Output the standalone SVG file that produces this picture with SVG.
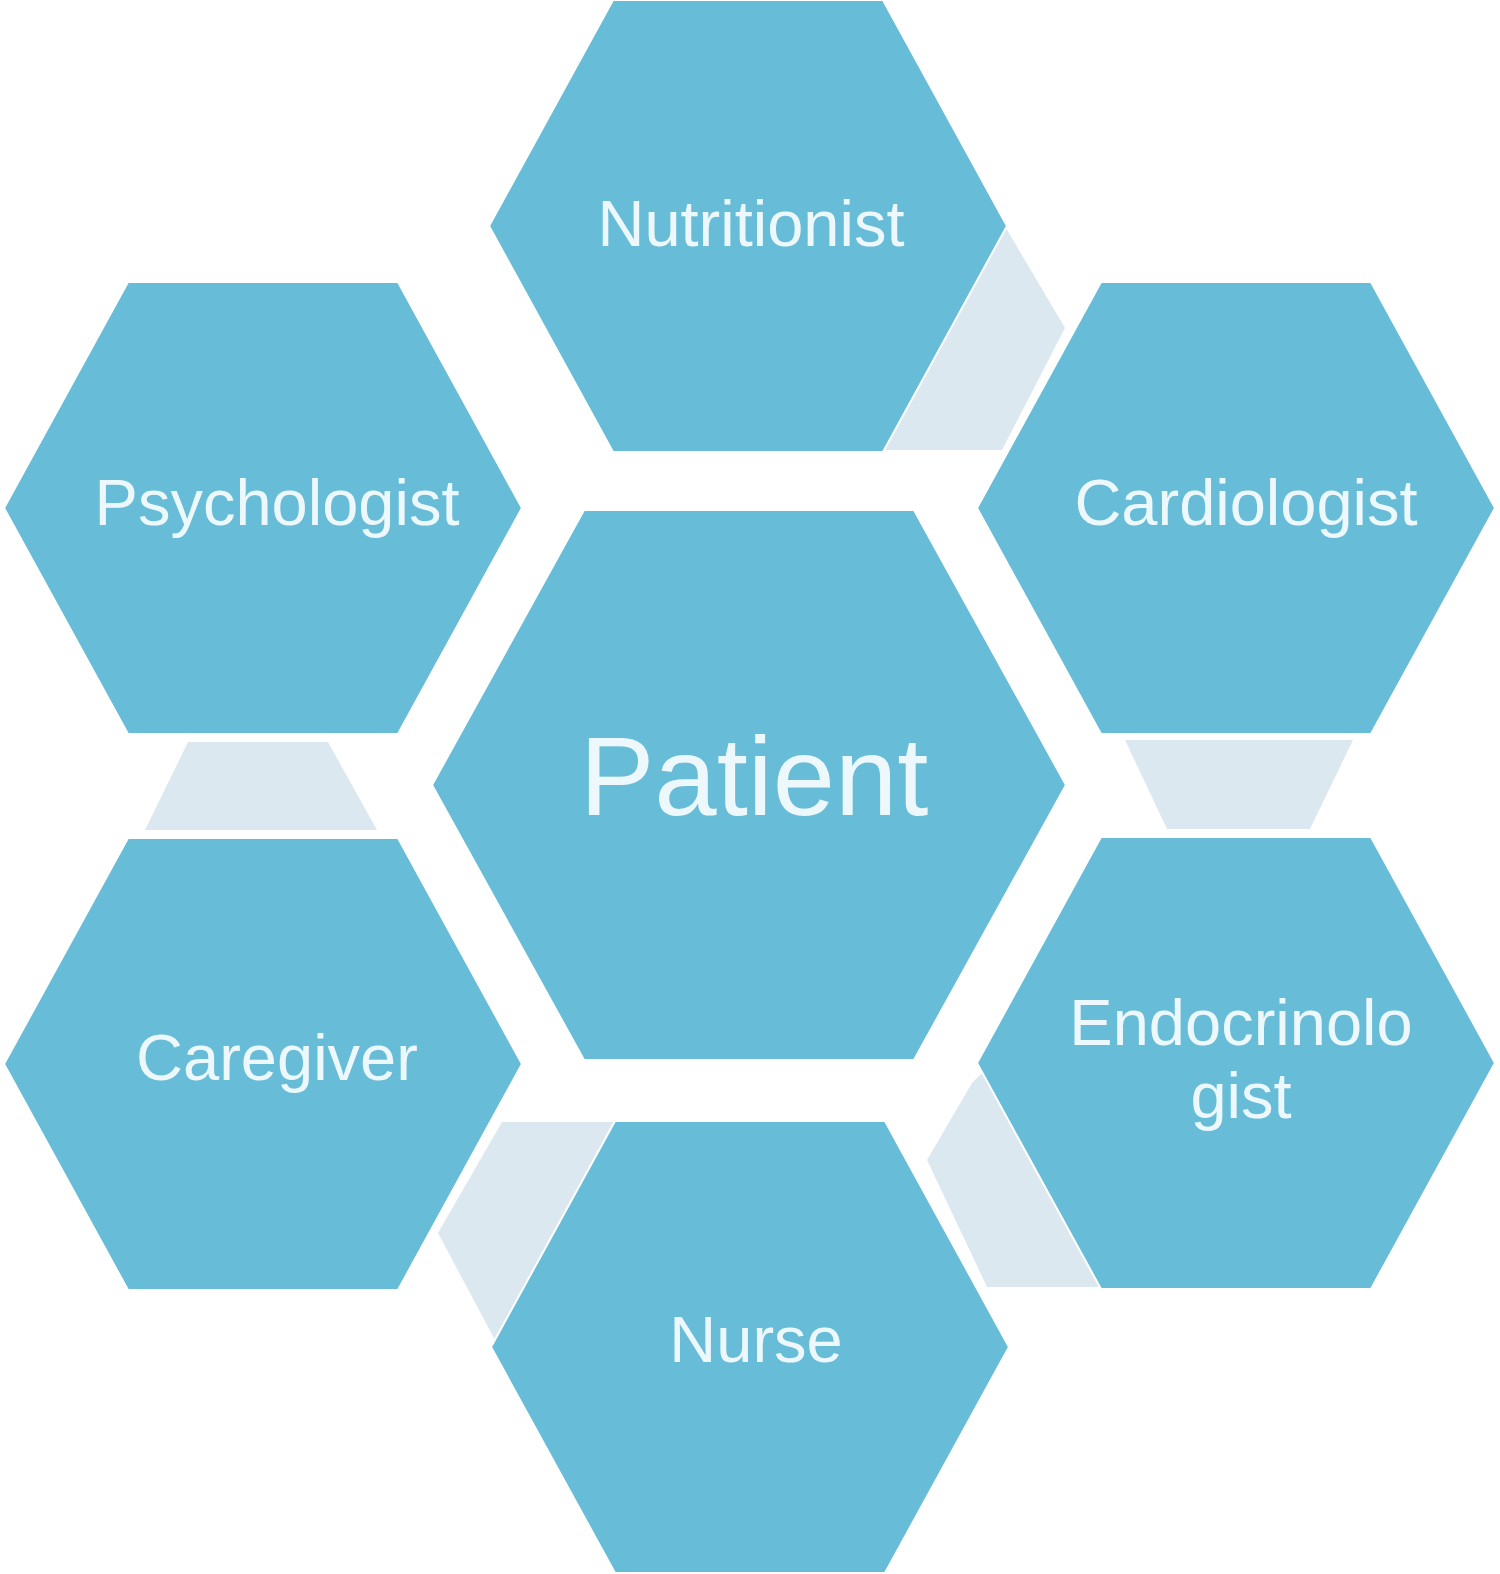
<svg xmlns="http://www.w3.org/2000/svg" width="1500" height="1574" viewBox="0 0 1500 1574">
<style>
.hex{fill:#67bdd8;stroke:#ffffff;stroke-width:2}
.link{fill:#dce8f0}
.lbl{font-family:"Liberation Sans",Arial,sans-serif;fill:#edf8fc;text-anchor:middle}
.sm{font-size:65px}
.lg{font-size:112px}
</style>
<rect width="1500" height="1574" fill="#ffffff"/>
<g id="connectors">
<polygon class="link" points="1006,228 1065,328 1002,450 870,450 900,300"/>
<polygon class="link" points="1125,740 1353,740 1310,829 1167,829"/>
<polygon class="link" points="972,1083 927,1160 987,1287 1110,1287 1110,1150 985,1070"/>
<polygon class="link" points="502,1122 640,1122 600,1250 495,1340 438,1233"/>
<polygon class="link" points="188,742 328,742 377,830 145,830"/>
</g>
<g id="nutritionist">
<polygon class="hex" points="489,226 613,0 883,0 1007,226 883,452 613,452"/>
<text class="lbl sm" x="751" y="246">Nutritionist</text>
</g>
<g id="psychologist">
<polygon class="hex" points="4,508 128,282 398,282 522,508 398,734 128,734"/>
<text class="lbl sm" x="277" y="525">Psychologist</text>
</g>
<g id="cardiologist">
<polygon class="hex" points="977,508 1101,282 1371,282 1495,508 1371,734 1101,734"/>
<text class="lbl sm" x="1246" y="525">Cardiologist</text>
</g>
<g id="patient">
<polygon class="hex" points="432,785 584,510 914,510 1066,785 914,1060 584,1060"/>
<text class="lbl lg" x="754" y="815">Patient</text>
</g>
<g id="caregiver">
<polygon class="hex" points="4,1064 128,838 398,838 522,1064 398,1290 128,1290"/>
<text class="lbl sm" x="277" y="1080">Caregiver</text>
</g>
<g id="endocrinologist">
<polygon class="hex" points="977,1063 1101,837 1371,837 1495,1063 1371,1289 1101,1289"/>
<text class="lbl sm" x="1241" y="1045">Endocrinolo</text>
<text class="lbl sm" x="1241" y="1118">gist</text>
</g>
<g id="nurse">
<polygon class="hex" points="491,1347 615,1121 885,1121 1009,1347 885,1573 615,1573"/>
<text class="lbl sm" x="756" y="1362">Nurse</text>
</g>
</svg>
